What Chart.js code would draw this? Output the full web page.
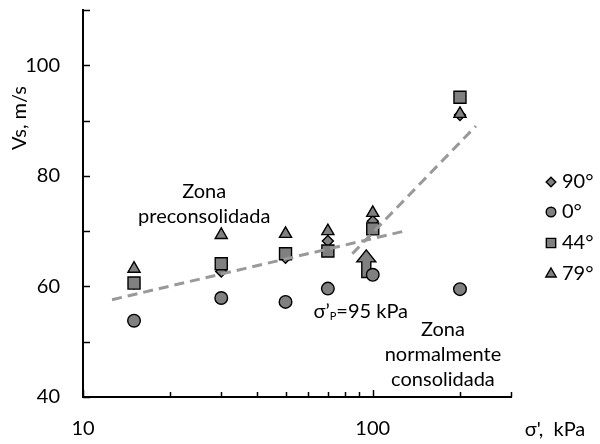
<!DOCTYPE html>
<html>
<head>
<meta charset="utf-8">
<script src="https://cdn.jsdelivr.net/npm/chart.js@4.4.1/dist/chart.umd.min.js"></script>
<style>
  html, body { margin: 0; padding: 0; background: #fff; }
  #wrap { width: 600px; height: 444px; }
</style>
</head>
<body>
<div id="wrap"><canvas id="c" width="600" height="444"></canvas></div>
<script>
// Effective vertical stress (kPa) at each test stage
const stressKPa = [15, 30, 50, 70, 100, 200];

// Shear-wave velocity Vs (m/s) for each orientation
const vs90 = [60.5, 62.7, 65.2, 68.2, 71.8, 91.0];
const vs0  = [53.8, 57.9, 57.2, 59.6, 62.1, 59.5];
const vs44 = [60.6, 64.1, 65.9, 66.4, 70.4, 94.2];
const vs79 = [63.2, 69.3, 69.5, 70.0, 73.3, 91.2];

const seriesLabels = ['90°', '0°', '44°', '79°'];
const seriesStyles = ['rectRot', 'circle', 'rect', 'triangle'];

// Trend lines: overconsolidated and normally consolidated branches
const preTrendX = [12.6, 131];
const preTrendY = [57.6, 70.1];
const ncTrendX  = [85, 227];
const ncTrendY  = [65.9, 89.0];

// Preconsolidation stress marker
const sigmaP = 95;
const arrowFrom = 61.6;
const arrowTo = 66.6;

// Axis ticks
const yTickValues = [40, 50, 60, 70, 80, 90, 100, 110];
const yTickLabels = [40, 60, 80, 100];
const xTickValues = [10, 20, 30, 40, 50, 60, 70, 80, 90, 100, 200, 300];
const xTickLabels = [10, 100];

const FONT = 'Lato, "Open Sans", sans-serif';
const FS = 20;
const GREY = '#808080';

function pts(xs, ys) { return xs.map((x, i) => ({ x: x, y: ys[i] })); }

const radii = { rectRot: 5.5, circle: 6.3, rect: 8.5, triangle: 7 };

function scatterSet(label, values, style, order) {
  return {
    type: 'scatter',
    label: label,
    data: pts(stressKPa, values),
    pointStyle: style,
    pointRadius: radii[style],
    pointBackgroundColor: GREY,
    pointBorderColor: '#000',
    pointBorderWidth: 1.4,
    order: order,
    clip: false
  };
}

function trendSet(xs, ys) {
  return {
    type: 'line',
    data: pts(xs, ys),
    borderColor: '#999999',
    borderWidth: 3,
    borderDash: [10, 6],
    pointRadius: 0,
    fill: false,
    order: 0
  };
}

const decorations = {
  id: 'decorations',
  beforeDatasetsDraw(chart) {
    // block arrow at the preconsolidation stress (beneath the markers)
    const ctx = chart.ctx;
    const xs = chart.scales.x, ys = chart.scales.y;
    ctx.save();
    const ax = xs.getPixelForValue(sigmaP);
    const yTip = ys.getPixelForValue(arrowTo);
    const yBase = ys.getPixelForValue(arrowFrom);
    const headH = 12, headW = 9.5, shaftW = 4.5;
    ctx.beginPath();
    ctx.moveTo(ax, yTip);
    ctx.lineTo(ax + headW, yTip + headH);
    ctx.lineTo(ax + shaftW, yTip + headH);
    ctx.lineTo(ax + shaftW, yBase);
    ctx.lineTo(ax - shaftW, yBase);
    ctx.lineTo(ax - shaftW, yTip + headH);
    ctx.lineTo(ax - headW, yTip + headH);
    ctx.closePath();
    ctx.fillStyle = GREY;
    ctx.fill();
    ctx.lineWidth = 1.4;
    ctx.strokeStyle = '#000';
    ctx.stroke();
    ctx.restore();
  },
  afterDatasetsDraw(chart) {
    const ctx = chart.ctx;
    const xs = chart.scales.x, ys = chart.scales.y;
    const area = chart.chartArea;
    ctx.save();

    // inward tick marks
    ctx.strokeStyle = '#000';
    ctx.lineWidth = 1.5;
    yTickValues.forEach(v => {
      const py = Math.round(ys.getPixelForValue(v)) + 0.5;
      ctx.beginPath(); ctx.moveTo(area.left, py); ctx.lineTo(area.left + 7, py); ctx.stroke();
    });
    xTickValues.forEach(v => {
      const px = Math.round(xs.getPixelForValue(v)) + 0.5;
      const len = xTickLabels.includes(v) ? 7 : 5;
      ctx.beginPath(); ctx.moveTo(px, area.bottom); ctx.lineTo(px, area.bottom - len); ctx.stroke();
    });

    // text annotations
    ctx.fillStyle = '#000';
    ctx.font = FS + 'px ' + FONT;
    ctx.textAlign = 'center';
    ctx.textBaseline = 'middle';
    const lines = (x, y, arr) => {
      const px = xs.getPixelForValue(x), py = ys.getPixelForValue(y);
      arr.forEach((t, i) => ctx.fillText(t, px, py + i * 25));
    };
    lines(26.2, 77.1, ['Zona', 'preconsolidada']);
    lines(174.7, 52.2, ['Zona', 'normalmente', 'consolidada']);

    // σ'p = 95 kPa with subscript
    {
      const px = xs.getPixelForValue(90.9), py = ys.getPixelForValue(55.5);
      const a = 'σ’', sub = 'P', b = '=95 kPa';
      ctx.font = FS + 'px ' + FONT;
      const wa = ctx.measureText(a).width, wb = ctx.measureText(b).width;
      ctx.font = '11px ' + FONT;
      const ws = ctx.measureText(sub).width;
      let x0 = px - (wa + ws + wb) / 2;
      ctx.textAlign = 'left';
      ctx.font = FS + 'px ' + FONT;
      ctx.fillText(a, x0, py);
      ctx.font = '11px ' + FONT;
      ctx.fillText(sub, x0 + wa, py + 5);
      ctx.font = FS + 'px ' + FONT;
      ctx.fillText(b, x0 + wa + ws, py);
    }

    // axis titles
    ctx.textAlign = 'center';
    ctx.font = FS + 'px ' + FONT;
    ctx.fillText('σ\',  kPa', 555, 430);
    ctx.save();
    ctx.translate(20, 118);
    ctx.rotate(-Math.PI / 2);
    ctx.fillText('Vs, m/s', 0, 0);
    ctx.restore();

    // legend
    const rowY = [182, 212, 243, 274];
    const legendR = { rectRot: 4.8, circle: 4.8, rect: 6.6, triangle: 6 };
    seriesLabels.forEach((lab, i) => {
      const st = seriesStyles[i];
      ctx.fillStyle = GREY;
      ctx.strokeStyle = '#000';
      ctx.lineWidth = 1.4;
      Chart.helpers.drawPoint(ctx, { pointStyle: st, radius: legendR[st], borderWidth: 1.4 }, 551, rowY[i]);
      ctx.fillStyle = '#000';
      ctx.textAlign = 'left';
      ctx.font = FS + 'px ' + FONT;
      ctx.fillText(lab, 562, rowY[i]);
    });

    ctx.restore();
  }
};

new Chart(document.getElementById('c'), {
  data: {
    datasets: [
      trendSet(preTrendX, preTrendY),
      trendSet(ncTrendX, ncTrendY),
      scatterSet(seriesLabels[3], vs79, seriesStyles[3], 1),
      scatterSet(seriesLabels[2], vs44, seriesStyles[2], 2),
      scatterSet(seriesLabels[1], vs0, seriesStyles[1], 3),
      scatterSet(seriesLabels[0], vs90, seriesStyles[0], 4)
    ]
  },
  options: {
    responsive: false,
    animation: false,
    events: [],
    layout: { padding: { left: 0, right: 89, top: 8, bottom: 0 } },
    plugins: { legend: { display: false }, tooltip: { enabled: false } },
    scales: {
      x: {
        type: 'logarithmic',
        min: 10,
        max: 300,
        afterFit(scale) {
          scale.height = 47;
          scale.paddingLeft = 0; scale.paddingRight = 0;
          scale.paddingTop = 0; scale.paddingBottom = 0;
        },
        afterBuildTicks(scale) { scale.ticks = xTickValues.map(v => ({ value: v })); },
        grid: { display: false, drawTicks: false },
        border: { display: true, color: '#000', width: 2 },
        ticks: {
          autoSkip: false,
          maxRotation: 0,
          padding: 20,
          color: '#000',
          font: { family: FONT, size: FS },
          callback: v => xTickLabels.includes(v) ? String(v) : ''
        }
      },
      y: {
        type: 'linear',
        min: 40,
        max: 110,
        afterFit(scale) {
          scale.width = 83;
          scale.paddingLeft = 0; scale.paddingRight = 0;
          scale.paddingTop = 0; scale.paddingBottom = 0;
        },
        afterBuildTicks(scale) { scale.ticks = yTickValues.map(v => ({ value: v })); },
        grid: { display: false, drawTicks: false },
        border: { display: true, color: '#000', width: 2 },
        ticks: {
          autoSkip: false,
          padding: 23,
          color: '#000',
          font: { family: FONT, size: FS },
          callback: v => yTickLabels.includes(v) ? String(v) : ''
        }
      }
    }
  },
  plugins: [decorations]
});
</script>
</body>
</html>
